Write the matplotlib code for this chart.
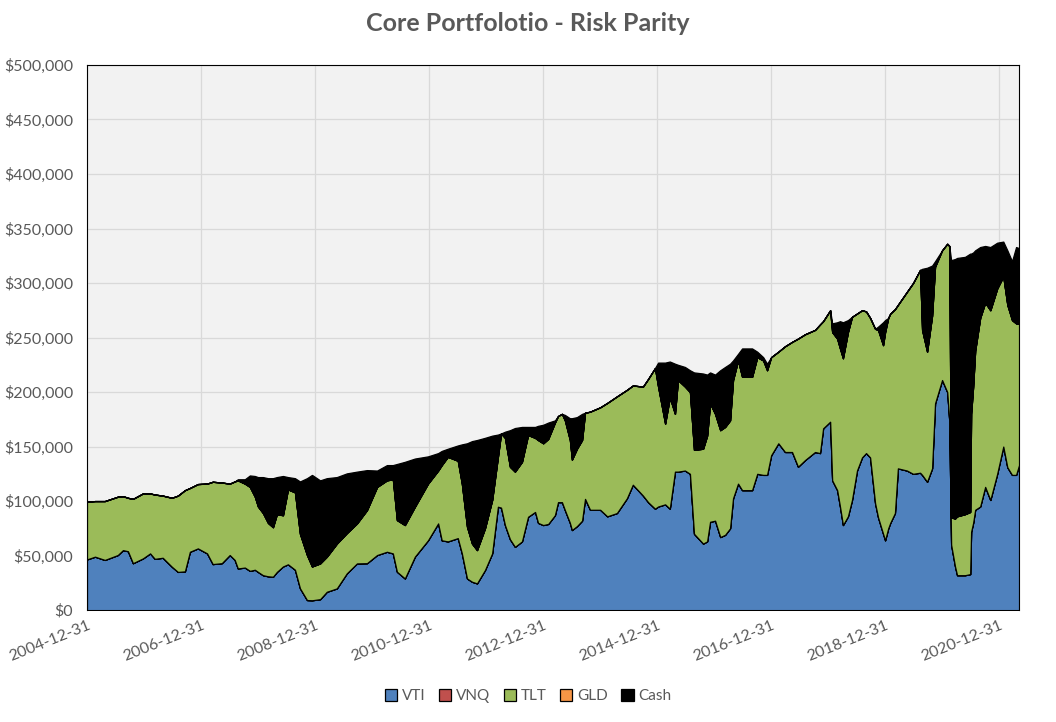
import matplotlib
matplotlib.use("Agg")
import matplotlib.pyplot as plt
import matplotlib.dates as mdates
import matplotlib.ticker as mticker
import pandas as pd

# Portfolio value by holding (USD)
dates = [
    "2004-12-31", "2005-02-20", "2005-04-24", "2005-07-16", "2005-08-18", "2005-09-19", "2005-10-21", "2005-12-24",
    "2006-02-08", "2006-03-10", "2006-04-30", "2006-06-27", "2006-08-05", "2006-09-19", "2006-10-21", "2006-12-11",
    "2007-02-08", "2007-03-16", "2007-05-13", "2007-07-03", "2007-08-04", "2007-08-24", "2007-10-08", "2007-11-09",
    "2007-12-11", "2007-12-31",
    "2008-02-01", "2008-03-04", "2008-04-05", "2008-04-30", "2008-06-08", "2008-07-10", "2008-08-24", "2008-09-25",
    "2008-11-09", "2008-12-11",
    "2009-02-01", "2009-03-16", "2009-05-19", "2009-07-22", "2009-09-25", "2009-11-28",
    "2010-02-01", "2010-04-05", "2010-05-13", "2010-06-08", "2010-07-29", "2010-10-01", "2010-12-24",
    "2011-02-27", "2011-03-22", "2011-04-30", "2011-07-03", "2011-07-29", "2011-08-31", "2011-10-02", "2011-11-03",
    "2011-12-24",
    "2012-02-08", "2012-03-16", "2012-04-05", "2012-04-30", "2012-06-01", "2012-07-03", "2012-08-17", "2012-09-25",
    "2012-11-09", "2012-11-28", "2012-12-31",
    "2013-02-01", "2013-03-16", "2013-04-05", "2013-04-30", "2013-05-19", "2013-06-20", "2013-07-03", "2013-08-04",
    "2013-09-06", "2013-09-25", "2013-10-27", "2013-12-31",
    "2014-02-14", "2014-04-17", "2014-06-20", "2014-07-28", "2014-10-01", "2014-11-03", "2014-12-17",
    "2015-01-06", "2015-02-20", "2015-03-22", "2015-04-24", "2015-05-13", "2015-06-27", "2015-07-29", "2015-08-24",
    "2015-10-21", "2015-11-16", "2015-12-05",
    "2016-01-06", "2016-02-08", "2016-03-10", "2016-04-11", "2016-04-30", "2016-06-01", "2016-06-27", "2016-08-30",
    "2016-10-02", "2016-11-09", "2016-12-04", "2016-12-30",
    "2017-02-14", "2017-03-29", "2017-05-13", "2017-06-20", "2017-08-04", "2017-10-07", "2017-11-08", "2017-11-28",
    "2018-01-12", "2018-01-25", "2018-02-26", "2018-03-16", "2018-04-04", "2018-05-06", "2018-06-01", "2018-07-03",
    "2018-08-04", "2018-08-30", "2018-09-25", "2018-10-27", "2018-11-15", "2018-12-17", "2018-12-30",
    "2019-01-19", "2019-02-01", "2019-03-03", "2019-03-22", "2019-05-19", "2019-06-27", "2019-08-11", "2019-08-24",
    "2019-09-25", "2019-10-27", "2019-11-15", "2019-12-30",
    "2020-02-01", "2020-02-14", "2020-02-26", "2020-03-22", "2020-04-04", "2020-05-25", "2020-06-27", "2020-07-03",
    "2020-07-16", "2020-07-29", "2020-08-30", "2020-10-01", "2020-11-03", "2020-12-17",
    "2021-01-25", "2021-02-20", "2021-03-22", "2021-04-17", "2021-05-06",
]

vti = [
    46500, 49000, 46000, 50500, 55000, 54000, 43000, 47400,
    52000, 47000, 48000, 39800, 35000, 35500, 53500, 56600,
    52000, 42200, 43000, 50500, 46000, 38200, 39000, 36000, 37000, 35000,
    32000, 31000, 30600, 35000, 40000, 42000, 37000, 20000, 9200, 9000,
    10000, 16800, 19900, 33700, 42800, 43000,
    50500, 53500, 52000, 35200, 29000, 49000, 64000,
    79500, 64000, 63000, 66000, 52000, 29000, 26000, 24500, 36700,
    52000, 94800, 94000, 78000, 65000, 58000, 63000, 85600, 90000, 80000, 78000,
    79000, 87000, 99000, 99000, 91700, 80000, 73400, 77000, 82000, 102000, 92000, 92000,
    86000, 89000, 102500, 115000, 105000, 99000, 93000,
    95000, 97000, 93000, 127000, 127000, 128000, 125000, 70000, 61000, 63000, 81000,
    82000, 67000, 69000, 75000, 102500, 116000, 110000, 110000, 125000, 124000, 124000, 142000,
    153000, 145000, 145000, 131500, 137600, 145000, 144000, 166700,
    172800, 119000, 110000, 95000, 78000, 86000, 101000, 128000, 140000, 144000, 140000, 98000, 85000, 70000, 64000,
    75000, 80000, 89000, 130000, 128000, 125000, 126000, 124000, 117700, 130000, 189600, 211000,
    200000, 174000, 60000, 40000, 32000, 32000, 33000, 71800, 80000, 92000, 95000, 113000, 101000, 125000,
    150000, 131000, 124000, 124000, 133000,
]

tlt = [
    52900, 51000, 54000, 53500, 49500, 49000, 59000, 59600,
    55000, 59000, 57000, 63200, 70000, 74500, 58500, 59000,
    64000, 75500, 74000, 65500, 72000, 80800, 77000, 77000, 67000, 60000,
    57000, 49000, 45400, 53000, 47000, 68700, 71000, 50000, 41300, 31000,
    32800, 32200, 41100, 36900, 36700, 48700,
    62500, 65500, 68000, 47400, 49000, 45800, 52000,
    48500, 69000, 77600, 71000, 64000, 47500, 35000, 30500, 38300,
    49000, 45800, 68000, 80000, 66500, 69000, 73000, 75000, 68000, 76000, 75000,
    78000, 85000, 79000, 81000, 82300, 76000, 64600, 71000, 74000, 79000, 90000, 94000,
    104000, 107000, 99500, 91000, 100000, 113000, 129000,
    110000, 74000, 102000, 53000, 84000, 77000, 75000, 77000, 87000, 97000, 108600,
    98000, 98000, 99000, 99000, 108500, 113000, 104000, 104000, 107000, 105000, 96000, 90000,
    84000, 97000, 101000, 117500, 115400, 112000, 118000, 98300,
    102200, 136000, 139000, 145000, 153000, 169000, 168000, 144000, 135000, 130000, 128000, 160000, 172000, 173000,
    191000,
    193000, 192000, 187000, 150000, 164000, 175000, 186000, 133000, 119300, 140000, 125400, 119000,
    136000, 160000, 25000, 44000, 54000, 56000, 57000, 108200, 125000, 146000, 173000, 169000, 174000, 170000,
    156000, 149000, 142000, 139000, 130000,
]

cash = [
    0, 0, 0, 0, 0, 0, 0, 0,
    0, 0, 0, 0, 0, 0, 0, 0,
    0, 0, 0, 0, 0, 1000, 4000, 10500, 19000, 27000,
    33000, 41000, 45000, 34000, 36000, 11300, 13000, 48000, 70500, 84000,
    76200, 72000, 61000, 54800, 47500, 36700,
    15000, 14000, 13000, 51400, 58000, 44200, 25000,
    16000, 13000, 7400, 14000, 36000, 76500, 94000, 101000, 83000,
    59000, 20400, 0, 5600, 33500, 40000, 32000, 7400, 10000, 13000, 17000,
    15000, 2000, 0, 0, 5000, 20000, 38000, 29000, 24000, 0, 0, 0,
    0, 0, 0, 0, 0, 0, 0,
    22000, 56000, 33000, 46000, 14000, 18000, 20000, 71000, 69000, 56000, 28400,
    36000, 55000, 55000, 52000, 18000, 6000, 26000, 26000, 5000, 3000, 6000, 0,
    0, 0, 0, 0, 0, 0, 0, 0,
    0, 8000, 15000, 25000, 33000, 11000, 0, 0, 0, 0, 0, 0, 3000, 21000, 11000,
    0, 0, 0, 0, 0, 0, 0, 56000, 77000, 46000, 5000, 0,
    0, 0, 236000, 238000, 237000, 236000, 237000, 147000, 123000, 92000, 65000, 52000, 58000, 42000,
    32000, 50000, 54000, 70000, 69000,
]

# VNQ and GLD hold nothing in this portfolio
vnq = [0] * len(dates)
gld = [0] * len(dates)

series_names = ["VTI", "VNQ", "TLT", "GLD", "Cash"]
series_colors = ["#4F81BD", "#C0504D", "#9BBB59", "#F79646", "#000000"]
tick_dates = ["2004-12-31", "2006-12-31", "2008-12-31", "2010-12-31", "2012-12-31",
              "2014-12-31", "2016-12-31", "2018-12-31", "2020-12-31"]

x = pd.to_datetime(dates)
grey = "#595959"

fig = plt.figure(figsize=(10.56, 7.22), dpi=100)
ax = fig.add_axes([0.0824, 0.155, 0.8826, 0.755])
ax.set_facecolor("#F2F2F2")

polys = ax.stackplot(x, vti, vnq, tlt, gld, cash, labels=series_names,
                     colors=series_colors, edgecolor="black", linewidth=0.9, zorder=3)

ax.set_xlim(x[0], x[-1])
ax.set_ylim(0, 500000)
ax.yaxis.set_major_locator(mticker.MultipleLocator(50000))
ax.yaxis.set_major_formatter(mticker.StrMethodFormatter("${x:,.0f}"))
ax.set_xticks(pd.to_datetime(tick_dates))
ax.xaxis.set_major_formatter(mdates.DateFormatter("%Y-%m-%d"))
ax.grid(True, color="#D9D9D9", linewidth=0.9, zorder=0)
ax.set_axisbelow(True)

for lab in ax.get_xticklabels():
    lab.set_rotation(22)
    lab.set_ha("right")
    lab.set_rotation_mode("anchor")

ax.tick_params(axis="x", length=0, labelsize=11.5, labelcolor=grey, pad=6)
ax.tick_params(axis="y", length=0, labelsize=11.5, labelcolor=grey, pad=10)
for lab in ax.get_xticklabels() + ax.get_yticklabels():
    lab.set_fontfamily("Lato")

for side in ["top", "right", "left"]:
    ax.spines[side].set_color("black")
    ax.spines[side].set_linewidth(0.8)
ax.spines["bottom"].set_color("#D9D9D9")

fig.suptitle("Core Portfolotio - Risk Parity", x=0.5, y=0.984, fontsize=18,
             fontweight="bold", color=grey, family="Lato")

fig.legend(handles=polys, labels=series_names, loc="center", bbox_to_anchor=(0.5, 0.036),
           ncol=5, frameon=False, handlelength=0.8, handleheight=0.8, handletextpad=0.3,
           columnspacing=0.9, prop={"family": "Lato", "size": 11}, labelcolor=grey)

fig.savefig("out.png", dpi=100)
